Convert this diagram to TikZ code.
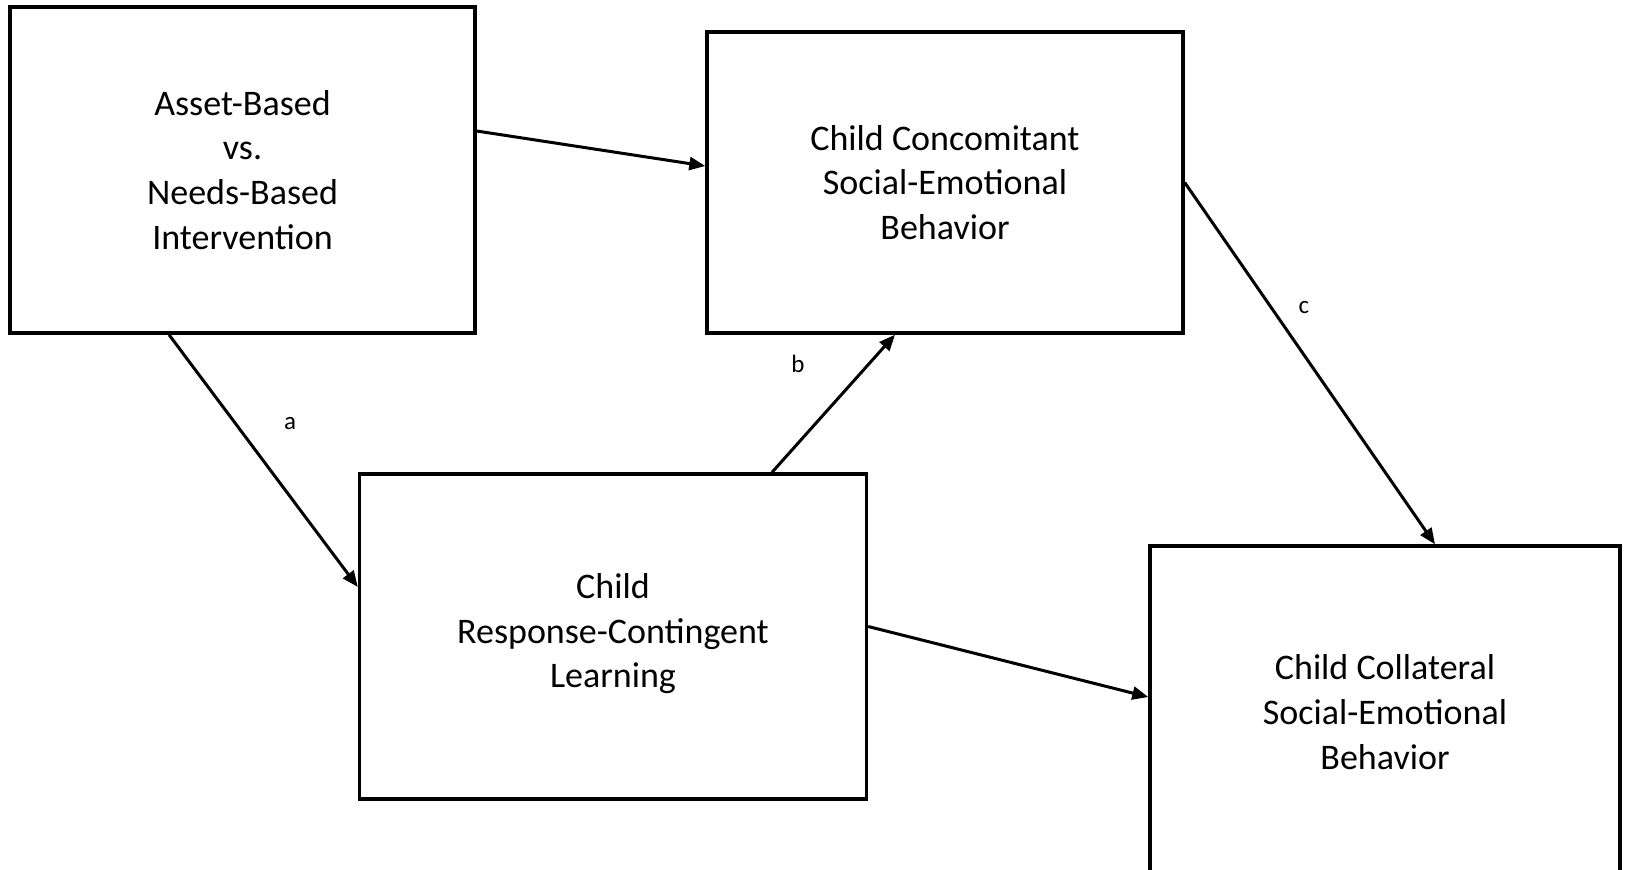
\documentclass[tikz,border=0pt]{standalone}
\usepackage{fontspec}
\setmainfont{Carlito}
\usetikzlibrary{arrows.meta, positioning, calc}

\begin{document}
\begin{tikzpicture}[
  x=0.5pt, y=-0.5pt,
  vbox/.style={draw, line width=1.7pt, fill=white, align=center, inner sep=0pt, font=\fontsize{18}{22.4}\selectfont},
  path/.style={line width=1.5pt, -{Triangle[length=8pt,width=6.5pt]}},
  lbl/.style={font=\fontsize{12.5}{15}\selectfont, inner sep=0pt}
]
  \useasboundingbox (0,0) rectangle (1629,869);
  \clip (0,0) rectangle (1629,869);
  % variables
  \node[vbox, minimum width=232.5pt, minimum height=163pt] (interv) at (242.5,170) {Asset-Based\\vs.\\Needs-Based\\Intervention};
  \node[vbox, minimum width=238pt, minimum height=150.5pt] (concom) at (945,182.5) {Child Concomitant\\Social-Emotional\\Behavior};
  \node[vbox, minimum width=253.5pt, minimum height=162.5pt, text depth=6pt] (learn) at (613,636.5) {Child\\Response-Contingent\\Learning};
  \node[vbox, minimum width=235pt, minimum height=166pt] (collat) at (1385,712) {Child Collateral\\Social-Emotional\\Behavior};
  % paths
  \draw[path] ([yshift=19.5pt]interv.east) -- ([yshift=8.25pt]concom.west);
  \draw[path] ([xshift=-36.75pt]interv.south) -- ([yshift=24.75pt]learn.west);
  \draw[path] ([xshift=79.5pt]learn.north) -- ([xshift=-25pt]concom.south);
  \draw[path] (concom.east) -- ([xshift=25pt]collat.north);
  \draw[path] ([yshift=5pt]learn.east) -- ([yshift=7.5pt]collat.west);
  % path labels
  \node[lbl] (la) at (290,424) {a};
  \node[lbl] (lb) at (798,364) {b};
  \node[lbl] (lc) at (1304,308) {c};
\end{tikzpicture}
\end{document}
